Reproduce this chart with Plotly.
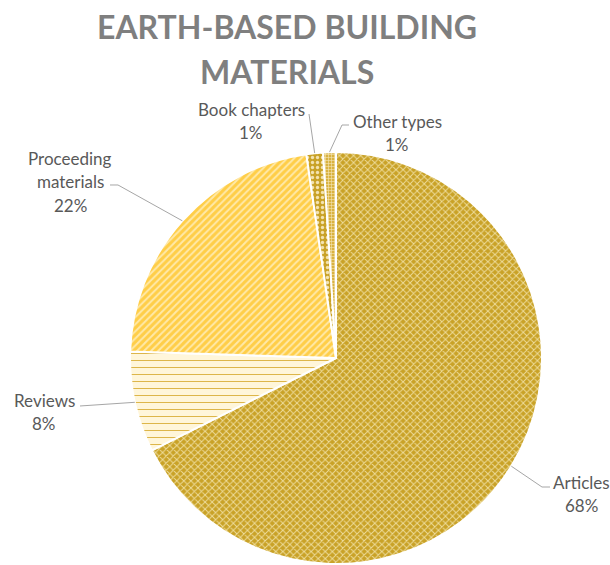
import math
import plotly.graph_objects as go

# ---- data ----
categories = ["Articles", "Reviews", "Proceeding materials", "Book chapters", "Other types"]
label_lines = [["Articles"], ["Reviews"], ["Proceeding", "materials"], ["Book chapters"], ["Other types"]]
values = [67.6, 7.9, 22.2, 1.3, 1.0]
title_lines = ["EARTH-BASED BUILDING", "MATERIALS"]

# ---- styles ----
bg_colors = ["#C9A227", "#FFF6DA", "#FFCE48", "#C9A227", "#D9B240"]
fg_colors = ["#EEDC9A", "#DDB64A", "#FFE9A8", "#F3E3B0", "#F5E6B8"]
shapes_pat = ["x", "-", "/", ".", "+"]
pat_size = [5, 7, 5, 5, 3]
pat_sol = [0.35, 0.15, 0.4, 0.35, 0.35]

W, H = 610, 565
CX, CY, R = 336, 358, 206

fig = go.Figure(go.Pie(
    labels=categories,
    values=values,
    sort=False,
    direction="clockwise",
    rotation=0,
    textinfo="none",
    hoverinfo="label+percent",
    marker=dict(
        colors=bg_colors,
        line=dict(color="white", width=2),
        pattern=dict(shape=shapes_pat, fgcolor=fg_colors, bgcolor=bg_colors,
                     size=pat_size, solidity=pat_sol, fillmode="replace"),
    ),
    domain=dict(x=[(CX - R) / W, (CX + R) / W], y=[1 - (CY + R) / H, 1 - (CY - R) / H]),
    showlegend=False,
))

def px(x, y):
    return x / W, 1 - y / H

# label layout: x centre and y of first line, elbow and end of leader line (pixels)
label_pos = {
    "Articles": dict(text=(581, 482), elbow=(542, 487), end=(550, 487)),
    "Reviews": dict(text=(44, 400), elbow=None, end=(80, 406)),
    "Proceeding materials": dict(text=(70, 158), elbow=(118, 185), end=(110, 185)),
    "Book chapters": dict(text=(251, 109), elbow=None, end=(309, 114)),
    "Other types": dict(text=(397, 121), elbow=(342, 125), end=(349, 125)),
}
LINE_GAP = 23.5
lab_font = dict(family="Lato", size=17, color="#595959")

total = sum(values)
cum = 0.0
annotations = []
shapes = []
for cat, lines, v in zip(categories, label_lines, values):
    mid = (cum + v / 2) / total * 2 * math.pi
    cum += v
    ax = CX + R * math.sin(mid)
    ay = CY - R * math.cos(mid)
    lp = label_pos[cat]
    pts = [(ax, ay)]
    if lp["elbow"]:
        pts.append(lp["elbow"])
    pts.append(lp["end"])
    path = "M " + " L ".join(f"{px(x, y)[0]:.5f},{px(x, y)[1]:.5f}" for x, y in pts)
    shapes.append(dict(type="path", path=path, xref="paper", yref="paper",
                       line=dict(color="#A6A6A6", width=1)))
    pct = round(v / total * 100)
    all_lines = lines + [f"{pct}%"]
    x0, y0 = lp["text"]
    for i, t in enumerate(all_lines):
        tx, ty = px(x0, y0 + i * LINE_GAP)
        annotations.append(dict(text=t, x=tx, y=ty, xref="paper", yref="paper",
                                xanchor="center", yanchor="middle", showarrow=False,
                                font=lab_font))

for i, t in enumerate(title_lines):
    tx, ty = px(287, 27 + i * 44)
    annotations.append(dict(text=f"<b>{t}</b>", x=tx, y=ty, xref="paper", yref="paper",
                            xanchor="center", yanchor="middle", showarrow=False,
                            font=dict(family="Lato", size=32, color="#7F7F7F")))

fig.update_layout(
    width=W, height=H,
    margin=dict(l=0, r=0, t=0, b=0),
    paper_bgcolor="white", plot_bgcolor="white",
    annotations=annotations,
    shapes=shapes,
)

fig.write_html("out.html")
